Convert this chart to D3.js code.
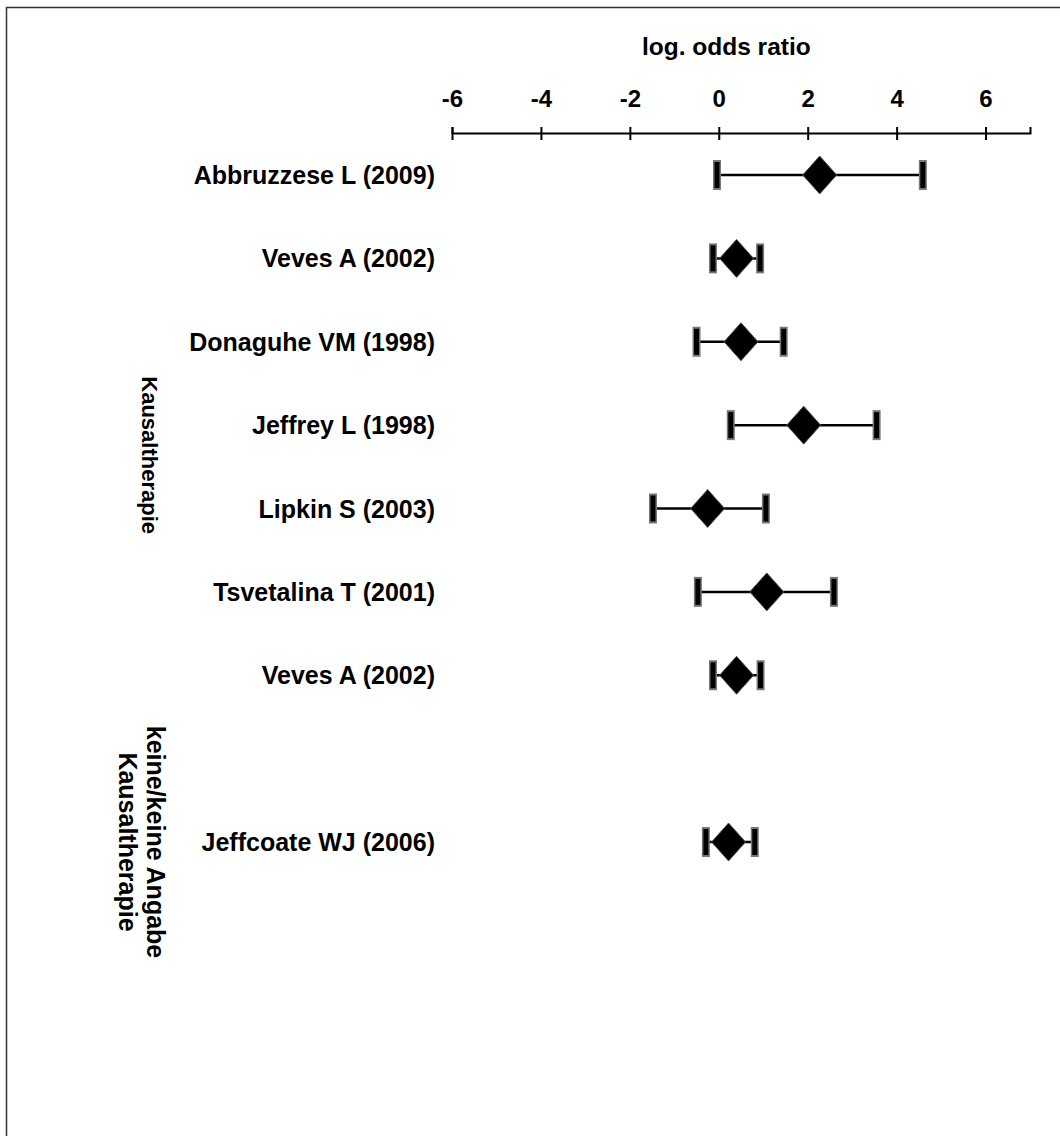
<!DOCTYPE html>
<html>
<head>
<meta charset="utf-8">
<script src="https://cdn.jsdelivr.net/npm/d3@7"></script>
<style>
  body { margin: 0; background: #fff; }
  svg text { font-family: "Liberation Sans", Arial, Helvetica, sans-serif; font-weight: bold; fill: #000; }
</style>
</head>
<body>
<div id="forest"></div>
<script>
(function(){

// study data (log odds ratio with confidence limits)
var studies = ["Abbruzzese L (2009)", "Veves A (2002)", "Donaguhe VM (1998)", "Jeffrey L (1998)",
               "Lipkin S (2003)", "Tsvetalina T (2001)", "Veves A (2002)", "Jeffcoate WJ (2006)"];
var rows = [0, 1, 2, 3, 4, 5, 6, 8];
var estimate = [2.27, 0.40, 0.50, 1.91, -0.25, 1.08, 0.40, 0.22];
var lower = [-0.04, -0.13, -0.50, 0.27, -1.48, -0.47, -0.13, -0.29];
var upper = [4.59, 0.93, 1.46, 3.55, 1.06, 2.59, 0.94, 0.81];

var groups = [["Kausaltherapie"], ["keine/keine Angabe", "Kausaltherapie"]];
var groupRows = [3.36, 8];
var groupSizes = [22, 25];
var groupX = [150, 142];

var tickValues = [-6, -4, -2, 0, 2, 4, 6];
var axisTitle = "log. odds ratio";

var width = 1060, height = 1136;

var x = d3.scaleLinear().domain([-6, 7]).range([452, 1030]);
var y = d3.scaleLinear().domain([0, 8]).range([175, 842]);

var svg = d3.select("#forest")
    .append("svg")
        .attr("width", width)
        .attr("height", height);

// frame (top + left edges, runs off the page)
svg.append("rect")
    .attr("x", 6.5)
    .attr("y", 7.5)
    .attr("width", width + 20)
    .attr("height", height + 20)
    .style("fill", "none")
    .style("stroke", "#333")
    .style("stroke-width", 1.5);

// axis on top
var xAxis = d3.axisTop(x)
    .tickValues(tickValues)
    .tickSizeOuter(0)
    .tickSize(6)
    .tickFormat(d3.format("d"));

var axisY = 133;
var gx = svg.append("g")
    .attr("class", "x axis")
    .attr("transform", "translate(0," + axisY + ")")
    .call(xAxis);

gx.select(".domain").style("stroke", "#000").style("stroke-width", 2);
gx.selectAll(".tick line")
    .attr("y1", -6)
    .attr("y2", 7)
    .style("stroke", "#000")
    .style("stroke-width", 2);
gx.selectAll(".tick text")
    .attr("y", -26)
    .attr("dy", 0)
    .style("font-size", "24px")
    .style("font-family", "'Liberation Sans', Arial, sans-serif")
    .style("font-weight", "bold")
    .text(function(d) { return d < 0 ? "-" + Math.abs(d) : d; });

svg.append("text")
    .attr("x", x(0.17))
    .attr("y", 55)
    .attr("text-anchor", "middle")
    .style("font-size", "24.5px")
    .text(axisTitle);

// study labels
svg.selectAll(".study")
    .data(studies)
  .enter().append("text")
    .attr("class", "study")
    .attr("x", 435)
    .attr("y", function(d, i) { return y(rows[i]); })
    .attr("dy", "0.36em")
    .attr("text-anchor", "end")
    .style("font-size", "25px")
    .text(function(d) { return d; });

// group labels, rotated
groups.forEach(function(lines, g) {
    var t = svg.append("text")
        .attr("transform", "translate(" + groupX[g] + "," + y(groupRows[g]) + ") rotate(90)")
        .attr("text-anchor", "middle")
        .style("font-size", groupSizes[g] + "px");
    lines.forEach(function(line, k) {
        t.append("tspan")
            .attr("x", 0)
            .attr("dy", k === 0 ? (0.36 - (lines.length - 1) * 0.55) + "em" : "1.1em")
            .text(line);
    });
});

// whiskers
var marks = svg.append("g").attr("class", "marks");

var idx = d3.range(studies.length);

marks.selectAll(".ci")
    .data(idx)
  .enter().append("line")
    .attr("class", "ci")
    .attr("x1", function(i) { return x(lower[i]); })
    .attr("x2", function(i) { return x(upper[i]); })
    .attr("y1", function(i) { return y(rows[i]); })
    .attr("y2", function(i) { return y(rows[i]); })
    .style("stroke", "#000")
    .style("stroke-width", 2.5);

// caps: gray halo with black core
var caps = [];
idx.forEach(function(i) {
    caps.push({v: lower[i], r: rows[i]});
    caps.push({v: upper[i], r: rows[i]});
});

marks.selectAll(".caphalo")
    .data(caps)
  .enter().append("rect")
    .attr("class", "caphalo")
    .attr("x", function(d) { return x(d.v) - 4; })
    .attr("y", function(d) { return y(d.r) - 15; })
    .attr("width", 8)
    .attr("height", 30)
    .style("fill", "#777");

marks.selectAll(".cap")
    .data(caps)
  .enter().append("rect")
    .attr("class", "cap")
    .attr("x", function(d) { return x(d.v) - 2.5; })
    .attr("y", function(d) { return y(d.r) - 13; })
    .attr("width", 5)
    .attr("height", 26)
    .style("fill", "#000");

// diamonds
marks.selectAll(".est")
    .data(idx)
  .enter().append("path")
    .attr("class", "est")
    .attr("d", function(i) {
        var cx = x(estimate[i]), cy = y(rows[i]), w = 17, h = 19;
        return "M" + cx + "," + (cy - h) + "L" + (cx + w) + "," + cy +
               "L" + cx + "," + (cy + h) + "L" + (cx - w) + "," + cy + "Z";
    })
    .style("fill", "#000")
    .style("stroke", "#555")
    .style("stroke-width", 1);

})();
</script>
</body>
</html>
